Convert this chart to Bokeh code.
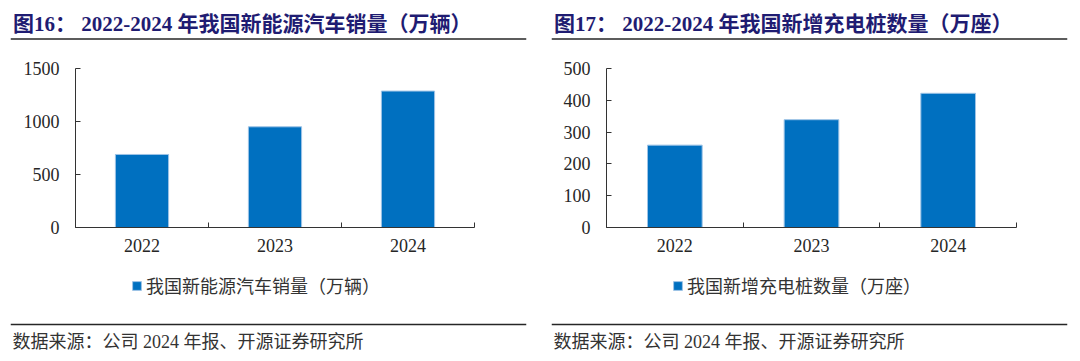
from bokeh.plotting import figure
from bokeh.layouts import row, column
from bokeh.models import Range1d, FixedTicker, Span, Label, Legend, LegendItem, ColumnDataSource
from bokeh.embed import file_html
from bokeh.resources import INLINE

# ---- data ----
years = ["2022", "2023", "2024"]
nev_sales = [689, 950, 1287]          # 万辆
new_chargers = [259, 339, 422]        # 万座
nev_ticks = [0, 500, 1000, 1500]
charger_ticks = [0, 100, 200, 300, 400, 500]

title_left = "图16： 2022-2024 年我国新能源汽车销量（万辆）"
title_right = "图17： 2022-2024 年我国新增充电桩数量（万座）"
legend_left = "我国新能源汽车销量（万辆）"
legend_right = "我国新增充电桩数量（万座）"
source_text = "数据来源：公司 2024 年报、开源证券研究所"

NAVY = "#1f1c72"
TXT = "#262626"
BAR = "#0070C0"
BAR_EDGE = "#9DC3E6"
FONT = "Liberation Serif, Noto Sans CJK SC"


def strip(width, height, x0, x1, y_bottom, y_top, bl, br):
    p = figure(width=width, height=height, x_range=Range1d(x0, x1),
               y_range=Range1d(y_bottom, y_top), toolbar_location=None,
               output_backend="svg", min_border_left=bl, min_border_right=br,
               min_border_top=0, min_border_bottom=0,
               x_axis_location=None, y_axis_location=None,
               outline_line_color=None, frame_align=False)
    p.grid.visible = False
    return p


def title_strip(width, x0, x1, bl, br, text):
    p = strip(width, 42, x0, x1, 42, 0, bl, br)
    p.add_layout(Span(location=38.5, dimension="width", line_color="#262626", line_width=1.4))
    p.add_layout(Label(x=x0 + 2.5, y=23, text=text, text_baseline="middle",
                       text_font=FONT, text_font_size="21px", text_font_style="bold",
                       text_color=NAVY))
    return p


def bottom_strip(width, x0, x1, bl, br, text, label, src):
    p = strip(width, 101, x0, x1, 361, 260, bl, br)
    # hidden copy of the bars, used only as the legend's swatch
    swatch = p.vbar(x="x", top="top", width=0.4, source=src, fill_color=BAR,
                    line_color=BAR_EDGE, line_width=1, visible=False)
    leg = Legend(items=[LegendItem(label=label, renderers=[swatch])], location=(121, 63),
                 glyph_width=11, glyph_height=11, label_text_font=FONT,
                 label_text_font_size="18px", label_text_color="#333333",
                 label_height=20, padding=0, margin=0, spacing=0, label_standoff=4,
                 border_line_color=None, background_fill_alpha=0,
                 inactive_fill_alpha=0)
    p.add_layout(leg, "center")
    p.add_layout(Span(location=324, dimension="width", line_color="#262626", line_width=1.4))
    p.add_layout(Label(x=x0 + 2, y=341, text=text, text_baseline="middle",
                       text_font=FONT, text_font_size="18px", text_color="#333333"))
    return p


def chart(width, bl, br, src, ticks):
    n = len(years)
    centers = src.data["x"]
    p = figure(width=width, height=218, x_range=Range1d(0, n),
               y_range=Range1d(ticks[0], ticks[-1]), toolbar_location=None,
               output_backend="svg", min_border_left=bl, min_border_right=br,
               min_border_top=26, min_border_bottom=33, outline_line_color=None,
               frame_align=False)
    p.grid.visible = False
    p.vbar(x="x", top="top", width=0.4, source=src, fill_color=BAR,
           line_color=BAR_EDGE, line_width=1)

    xa = p.xaxis[0]
    xa.ticker = FixedTicker(ticks=centers, minor_ticks=list(range(n + 1)))
    xa.major_label_overrides = {c: y for c, y in zip(centers, years)}
    xa.major_tick_in = 0
    xa.major_tick_out = 0
    xa.minor_tick_in = 5
    xa.minor_tick_out = 0
    xa.minor_tick_line_color = "#333333"
    xa.major_label_standoff = 11

    ya = p.yaxis[0]
    ya.ticker = FixedTicker(ticks=ticks)
    ya.major_tick_in = 5
    ya.major_tick_out = 0
    ya.minor_tick_line_color = None
    ya.major_label_standoff = 16

    for ax in (xa, ya):
        ax.axis_line_color = "#333333"
        ax.major_tick_line_color = "#333333"
        ax.major_label_text_font = "Liberation Serif"
        ax.major_label_text_font_size = "18px"
        ax.major_label_text_color = TXT
    return p


def make_src(values):
    return ColumnDataSource(dict(x=[i + 0.5 for i in range(len(years))], top=values, year=years))


src_l = make_src(nev_sales)
src_r = make_src(new_chargers)

left = column(
    title_strip(548, 10, 526, 10, 22, title_left),
    chart(548, 75, 74, src_l, nev_ticks),
    bottom_strip(548, 10, 526, 10, 22, source_text, legend_left, src_l),
)
right = column(
    title_strip(532, 551, 1067, 3, 13, title_right),
    chart(532, 58, 64, src_r, charger_ticks),
    bottom_strip(532, 551, 1067, 3, 13, source_text, legend_right, src_r),
)
layout = row(left, right)

open("out.html", "w").write(file_html(layout, INLINE))
